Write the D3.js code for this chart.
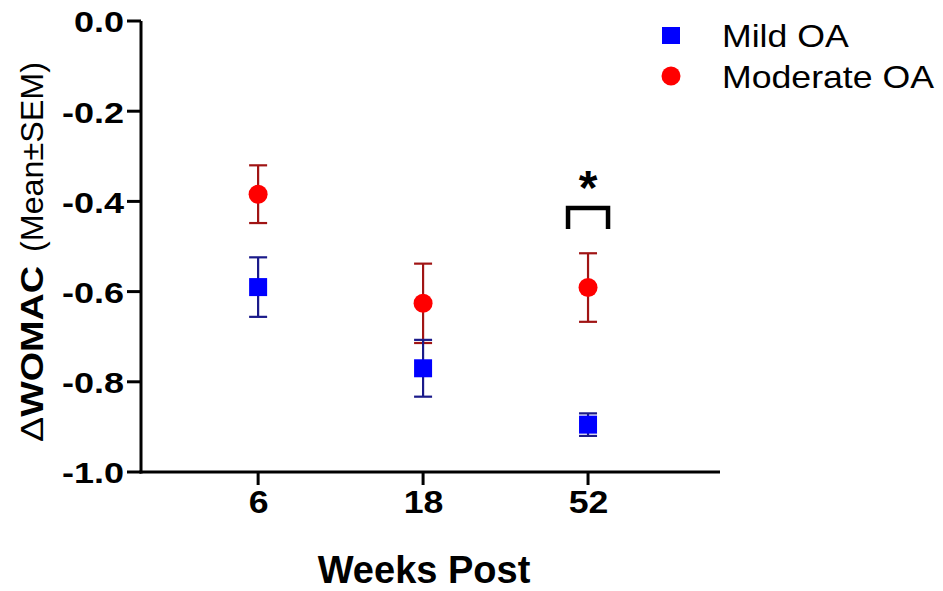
<!DOCTYPE html>
<html><head><meta charset="utf-8">
<script src="https://cdn.jsdelivr.net/npm/d3@7"></script>
<style>body{margin:0;background:#fff}svg{display:block;font-family:"Liberation Sans",Arial,sans-serif}</style>
</head><body><svg id="c" width="943" height="591"></svg>
<script>
const categories = ["6", "18", "52"];
const mildMean = [-0.590, -0.770, -0.895];
const mildSem = [0.066, 0.063, 0.025];
const modMean = [-0.384, -0.626, -0.591];
const modSem = [0.064, 0.088, 0.076];
const yTicks = [0, -0.2, -0.4, -0.6, -0.8, -1.0];

const svg = d3.select("#c");
const x = d3.scaleLinear().domain([-0.71, 2.8]).range([141, 720]);
const y = d3.scaleLinear().domain([-1, 0]).range([472, 21]);

function stretch(sel, k){
  sel.each(function(){
    const t = d3.select(this);
    const x0 = +t.attr("x") || 0;
    t.attr("x", 0).attr("transform", `translate(${x0},0) scale(${k},1)`);
  });
}

// axes (labels from d3 axes, tick marks drawn from the same scales)
const yAx = svg.append("g").attr("transform","translate(141,0)")
  .call(d3.axisLeft(y).tickValues(yTicks).tickSize(0).tickPadding(17));
yAx.select(".domain").remove();
yAx.selectAll(".tick text").attr("font-size",30).attr("font-weight","bold").attr("fill","#000")
  .attr("text-anchor","end").attr("dy","0.36em").text(d => d3.format(".1f")(d).replace("−","-"));
stretch(yAx.selectAll(".tick text"), 1.2);

const xAx = svg.append("g").attr("transform","translate(0,472)")
  .call(d3.axisBottom(x).tickValues([0,1,2]).tickFormat(i => categories[i]).tickSize(0).tickPadding(19));
xAx.select(".domain").remove();
xAx.selectAll(".tick text").attr("font-size",31).attr("font-weight","bold").attr("fill","#000").attr("text-anchor","middle");
stretch(xAx.selectAll(".tick text"), 1.15);

const axG = svg.append("g").attr("stroke","#000").attr("stroke-width",3).attr("fill","none");
axG.append("line").attr("x1",x.range()[0]).attr("x2",x.range()[0]).attr("y1",y(0)).attr("y2",y(-1)+1.5);
axG.append("line").attr("x1",x.range()[0]-1.5).attr("x2",x.range()[1]).attr("y1",y(-1)).attr("y2",y(-1));
yTicks.forEach(v => axG.append("line").attr("x1",x.range()[0]-14).attr("x2",x.range()[0]).attr("y1",y(v)).attr("y2",y(v)));
[0,1,2].forEach(i => axG.append("line").attr("x1",x(i)).attr("x2",x(i)).attr("y1",y(-1)).attr("y2",y(-1)+13));

// titles
svg.append("text").attr("x",424).attr("y",583).attr("text-anchor","middle")
  .attr("font-size",38).attr("font-weight","bold").text("Weeks Post");
const t1 = svg.append("text").attr("transform","translate(43,442) rotate(-90)")
  .attr("font-size",32).attr("font-weight","bold").attr("textLength",176).attr("lengthAdjust","spacingAndGlyphs");
t1.append("tspan").attr("font-weight","normal").text("Δ");
t1.append("tspan").text("WOMAC");
svg.append("text").attr("transform","translate(43,252) rotate(-90)")
  .attr("font-size",32).attr("textLength",190).attr("lengthAdjust","spacingAndGlyphs").text("(Mean±SEM)");

// series
function drawSeries(means, sems, color, barColor, shape){
  const g = svg.append("g");
  means.forEach((m,i)=>{
    const cx = x(i), s = sems[i];
    g.append("line").attr("x1",cx).attr("x2",cx).attr("y1",y(m+s)).attr("y2",y(m-s)).attr("stroke",barColor).attr("stroke-width",2.2);
    [m+s, m-s].forEach(v=>g.append("line").attr("x1",cx-9).attr("x2",cx+9).attr("y1",y(v)).attr("y2",y(v)).attr("stroke",barColor).attr("stroke-width",2.2));
  });
  means.forEach((m,i)=>{
    const cx = x(i), cy = y(m);
    if(shape==="square") g.append("rect").attr("x",cx-9).attr("y",cy-9).attr("width",18).attr("height",18).attr("fill",color);
    else g.append("circle").attr("cx",cx).attr("cy",cy).attr("r",9.5).attr("fill",color);
  });
}
drawSeries(modMean, modSem, "#ff0000", "#a01414", "circle");
drawSeries(mildMean, mildSem, "#0000ff", "#1a1a8a", "square");

// significance bracket
const bx = x(2);
svg.append("path").attr("d",`M${bx-20},229V208H${bx+20}V229`).attr("fill","none").attr("stroke","#000").attr("stroke-width",4.5);
svg.append("text").attr("x",bx).attr("y",204).attr("text-anchor","middle").attr("font-size",48).attr("font-weight","bold").text("*");

// legend
svg.append("rect").attr("x",662).attr("y",27).attr("width",18).attr("height",17).attr("fill","#0000ff");
svg.append("circle").attr("cx",671).attr("cy",76).attr("r",9.5).attr("fill","#ff0000");
const lg = svg.append("g");
lg.append("text").attr("transform","translate(722,47) scale(1.15,1)").attr("font-size",31).text("Mild OA");
lg.append("text").attr("transform","translate(722,88) scale(1.15,1)").attr("font-size",31).text("Moderate OA");
</script></body></html>
